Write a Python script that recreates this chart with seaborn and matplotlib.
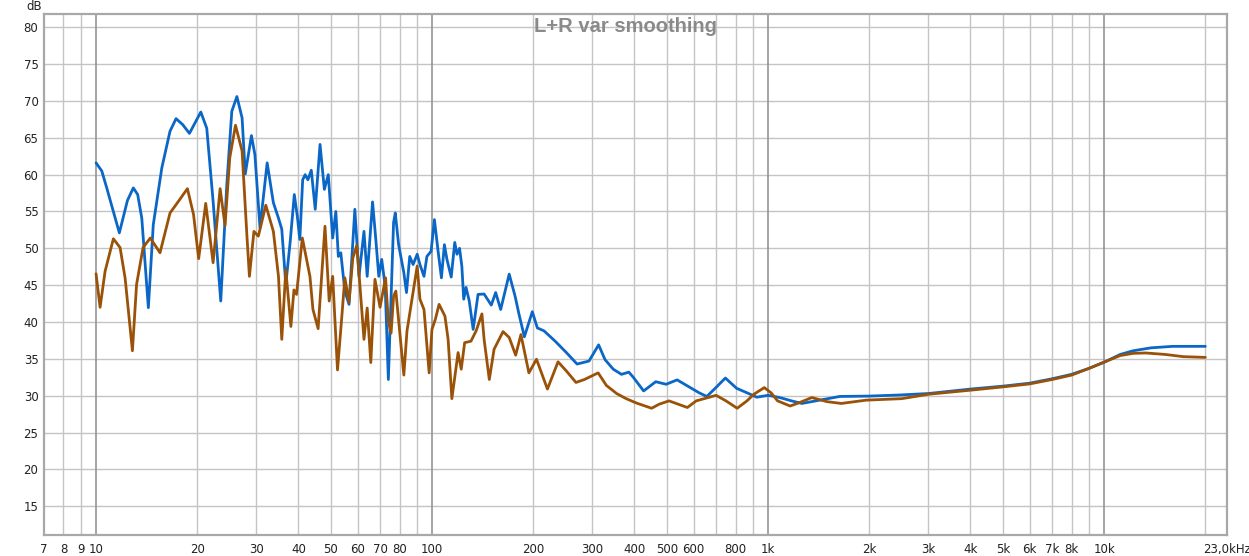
import numpy as np
import pandas as pd
import matplotlib
matplotlib.use("Agg")
import matplotlib.pyplot as plt
import seaborn as sns
from matplotlib.ticker import FixedLocator, NullFormatter

# ---- data ----
blue_freq = [10.0, 10.4, 10.76, 11.73, 12.4, 12.91, 13.3, 13.68, 14.31, 14.8, 15.69, 16.6, 17.3, 18.1,
             18.96, 20.5, 21.35, 22.3, 23.5, 24.5, 25.35, 26.25, 27.2, 27.8, 29.0, 29.7, 30.75,
             32.3, 33.7, 34.9, 35.7, 36.7, 37.8, 38.9, 39.7, 40.4, 41.2, 41.9, 42.7, 43.7, 44.9,
             46.4, 47.8, 49.1, 50.6, 51.7, 52.6, 53.5, 55.0, 56.6, 58.9, 60.6, 62.7, 64.1, 66.5,
             68.0, 69.4, 70.8, 72.5, 74.1, 76.8, 77.7, 79.5, 82.4, 83.9, 85.8, 87.8, 90.3, 92.0,
             94.6, 96.5, 99.3, 101.6, 104.2, 106.6, 108.8, 110.7, 114.0, 116.8, 118.6, 120.7,
             122.6, 124.2, 126.2, 129.0, 132.5, 137.0, 142.8, 150.0, 154.6, 160.0, 169.6, 176.6,
             181.5, 188.2, 198.7, 205.7, 215.3, 232.4, 251, 270, 293, 313, 327, 346, 366, 385,
             397, 426, 463, 497, 536, 587, 623, 657, 692, 746, 806, 865, 925, 1000, 1083, 1174,
             1260, 1424, 1634, 2000, 2468, 3000, 4000, 5000, 6000, 7000, 8000, 9000, 10000,
             11160, 12200, 13800, 16000, 20000]
blue_db = [61.6, 60.5, 58.2, 52.1, 56.5, 58.2, 57.3, 54.1, 41.95, 53.2, 60.9, 65.9, 67.6, 66.8,
           65.6, 68.5, 66.3, 56.4, 42.85, 58.7, 68.6, 70.6, 67.7, 60.1, 65.3, 62.7, 52.8,
           61.6, 56.2, 54.1, 52.6, 45.1, 50.8, 57.3, 54.4, 51.2, 59.3, 60.0, 59.3, 60.6, 55.3,
           64.1, 58.0, 60.0, 51.4, 55.0, 48.9, 49.4, 44.2, 42.4, 55.3, 46.2, 52.3, 46.2, 56.3,
           51.2, 46.2, 48.5, 44.9, 32.2, 53.5, 54.8, 50.5, 46.7, 44.0, 48.9, 47.8, 49.2, 47.8,
           46.2, 48.9, 49.6, 53.9, 49.6, 46.0, 50.5, 48.5, 46.1, 50.8, 49.2, 50.0,
           47.6, 43.1, 44.7, 42.85, 39.0, 43.75, 43.8, 42.3, 44.0, 41.7, 46.5, 43.5,
           41.0, 38.0, 41.4, 39.2, 38.8, 37.4, 35.85, 34.3, 34.7, 36.9, 34.9, 33.6, 32.9, 33.2,
           32.5, 30.65, 31.9, 31.55, 32.15, 31.1, 30.4, 29.9, 30.9, 32.4, 31.0, 30.4, 29.8, 30.05, 29.75, 29.3,
           28.95, 29.4, 29.9, 29.95, 30.1, 30.3, 30.9, 31.3, 31.7, 32.3, 32.9, 33.7, 34.55,
           35.6, 36.1, 36.5, 36.7, 36.7]

brown_freq = [10.0, 10.28, 10.64, 11.26, 11.79, 12.2, 12.83, 13.2, 13.8, 14.5, 15.5, 16.6, 17.6,
              18.7, 19.5, 20.2, 21.2, 22.3, 23.4, 24.2, 25.0, 26.0, 27.2, 28.1, 28.6, 29.5, 30.4,
              32.0, 33.7, 34.9, 35.7, 36.7, 38.0, 38.8, 39.5, 41.1, 43.3, 44.2, 45.8, 48.0, 49.4,
              50.6, 52.3, 53.8, 55.0, 56.6, 58.1, 59.7, 61.0, 62.7, 64.1, 65.7, 67.6, 70.0, 72.7,
              74.1, 75.5, 76.8, 78.0, 82.4, 84.2, 90.3, 92.0, 94.6, 98.0, 99.9, 102.3, 104.9,
              109.2, 111.6, 114.5, 119.5, 122.1, 125.0, 130.5, 135.2, 140.7, 142.8, 148.0, 152.9,
              162.6, 169.6, 177.3, 183.8, 194.1, 204.5, 220.4, 237, 251, 268, 284, 312, 330, 354,
              378, 406, 450, 474, 507, 575, 611, 700, 749, 809, 865, 907, 974, 1020, 1067, 1163,
              1245, 1349, 1495, 1650, 1961, 2500, 3000, 4000, 5000, 6000, 7000, 8000, 9000, 10000,
              11160, 12200, 13300, 15200, 17200, 20000]
brown_db = [46.55, 42.0, 46.9, 51.3, 50.1, 46.0, 36.1, 45.1, 50.1, 51.4, 49.4, 54.8, 56.4,
            58.1, 54.6, 48.6, 56.1, 48.05, 58.1, 53.1, 62.3, 66.7, 63.2, 51.9, 46.2, 52.3, 51.65,
            55.85, 52.3, 46.2, 37.65, 47.1, 39.4, 44.35, 43.75, 51.4, 46.2, 41.7, 39.1, 53.0, 42.85,
            46.2, 33.5, 40.4, 46.0, 42.7, 48.7, 50.4, 44.9, 37.65, 41.9, 34.5, 45.8, 42.0, 46.0,
            40.1, 38.5, 43.5, 44.2, 32.8, 38.8, 47.6, 43.1, 41.7, 33.1, 39.0, 40.4, 42.4,
            40.8, 37.65, 29.6, 35.85, 33.6, 37.2, 37.4, 38.8, 41.1, 37.65, 32.2, 36.3,
            38.7, 37.9, 35.5, 38.3, 33.1, 34.95, 30.9, 34.6, 33.35, 31.8, 32.2, 33.1, 31.4, 30.3,
            29.6, 29.0, 28.3, 28.85, 29.3, 28.4, 29.3, 30.05, 29.3, 28.3, 29.3, 30.2, 31.1, 30.4, 29.3, 28.6,
            29.1, 29.75, 29.2, 28.95, 29.4, 29.6, 30.2, 30.75, 31.2, 31.6, 32.2, 32.8, 33.7, 34.55,
            35.45, 35.75, 35.8, 35.6, 35.3, 35.2]

xtick_vals = [7, 8, 9, 10, 20, 30, 40, 50, 60, 70, 80, 100, 200, 300, 400, 500, 600, 800,
              1000, 2000, 3000, 4000, 5000, 6000, 7000, 8000, 10000, 23200]
xtick_labels = ["7", "8", "9", "10", "20", "30", "40", "50", "60", "70", "80", "100", "200", "300",
                "400", "500", "600", "800", "1k", "2k", "3k", "4k", "5k", "6k", "7k", "8k", "10k",
                "23,0kHz"]
ytick_vals = [15, 20, 25, 30, 35, 40, 45, 50, 55, 60, 65, 70, 75, 80]
title_text = "L+R var smoothing"

# ---- figure ----
sns.set_style("white")
plt.rcParams['font.family'] = ['DejaVu Sans']

fig = plt.figure(figsize=(12.49, 5.56), dpi=100)
ax = fig.add_axes([44 / 1249, 0.0378, (1227 - 44) / 1249, 0.937])

df_b = pd.DataFrame({"freq": blue_freq, "db": blue_db})
df_r = pd.DataFrame({"freq": brown_freq, "db": brown_db})

ax.set_xscale("log")
ax.set_xlim(7.0, 23200)
ax.set_ylim(11.1, 81.8)

# grid
minor_grid = [m * 10 ** e for e in range(0, 5) for m in range(1, 10)]
minor_grid = [v for v in minor_grid if 7.0 < v < 23200]
ax.xaxis.set_major_locator(FixedLocator(xtick_vals))
ax.set_xticklabels(xtick_labels)
ax.xaxis.set_minor_locator(FixedLocator(minor_grid))
ax.xaxis.set_minor_formatter(NullFormatter())
ax.set_yticks(ytick_vals)
ax.set_yticklabels([str(v) for v in ytick_vals])

ax.grid(False)
for v in minor_grid:
    if v in (10, 100, 1000, 10000):
        ax.axvline(v, color="#8c8c8c", lw=1.1, zorder=1)
    else:
        ax.axvline(v, color="#c4c4c4", lw=1.0, zorder=0.5)
for v in ytick_vals:
    ax.axhline(v, color="#c4c4c4", lw=1.0, zorder=0.5)

sns.lineplot(data=df_b, x="freq", y="db", ax=ax, color="#0b67c7", lw=2.0, sort=False, zorder=3)
sns.lineplot(data=df_r, x="freq", y="db", ax=ax, color="#9a5208", lw=2.0, sort=False, zorder=4)

ax.set_xlabel("")
ax.set_ylabel("")
ax.tick_params(axis="both", which="both", length=0, labelsize=8.5, colors="#222222")
ax.tick_params(axis="x", pad=6)
ax.tick_params(axis="y", pad=4)
for s in ax.spines.values():
    s.set_color("#a8a8a8")
    s.set_linewidth(1.6)

fig.text(625 / 1249, 1 - 27 / 556, title_text, ha="center", va="center",
         fontsize=14.5, fontweight="bold", color="#8a8a8a", family="Liberation Sans")
fig.text(34 / 1249, 1 - 6 / 556, "dB", ha="center", va="center", fontsize=8.5, color="#222222")

fig.savefig("out.png", dpi=100, facecolor="white")
